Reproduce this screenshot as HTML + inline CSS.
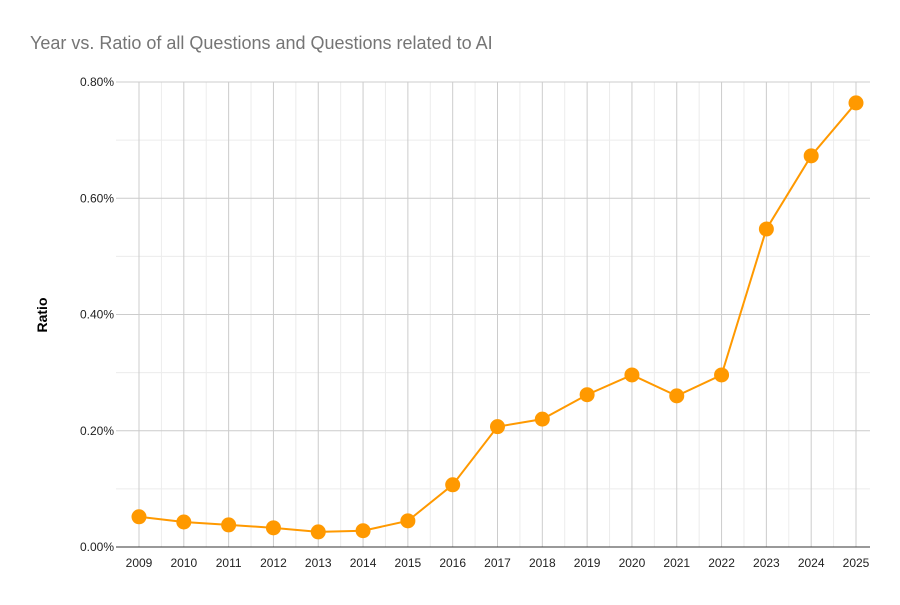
<!DOCTYPE html>
<html><head><meta charset="utf-8"><style>
body{margin:0;background:#fff;font-family:"Liberation Sans",Arial,sans-serif}
</style></head><body>
<svg id="c" width="900" height="600" xmlns="http://www.w3.org/2000/svg">
<rect width="900" height="600" fill="#fff"/>
<text x="30" y="49" font-size="18" fill="#757575">Year vs. Ratio of all Questions and Questions related to AI</text>
<text transform="translate(47,315) rotate(-90)" text-anchor="middle" font-size="14" font-weight="bold" fill="#000">Ratio</text>
<g id="grid"></g><g id="series"></g><g id="labels"></g>
</svg>
<script>
const years=[2009,2010,2011,2012,2013,2014,2015,2016,2017,2018,2019,2020,2021,2022,2023,2024,2025];
const ratios=[0.052,0.043,0.038,0.033,0.026,0.028,0.045,0.107,0.207,0.220,0.262,0.296,0.260,0.296,0.547,0.673,0.764];
const yTicks=[0,0.2,0.4,0.6,0.8];
const yTickLabels=["0.00%","0.20%","0.40%","0.60%","0.80%"];
const NS="http://www.w3.org/2000/svg";
const L=116,R=870,T=82,B=547,x0=139,x1=856;
function xs(i){return x0+(x1-x0)*i/(years.length-1);}
function ys(v){return B-(B-T)*v/0.8;}
function mk(t,a,p){const e=document.createElementNS(NS,t);for(const k in a)e.setAttribute(k,a[k]);p.appendChild(e);return e;}
const g=document.getElementById('grid'),s=document.getElementById('series'),lb=document.getElementById('labels');
const step=(x1-x0)/(years.length-1);
for(let i=0;i<years.length-1;i++){const x=xs(i)+step/2;const e=mk('line',{x1:x,x2:x,y1:T,y2:B,stroke:'#ececec'},g);

}
for(let i=0;i<yTicks.length-1;i++){const y=ys((yTicks[i]+yTicks[i+1])/2);const e=mk('line',{x1:L,x2:R,y1:y,y2:y,stroke:'#ececec'},g);

}
years.forEach((yr,i)=>{const x=xs(i);const e=mk('line',{x1:x,x2:x,y1:T,y2:B,stroke:'#cccccc'},g);


const t=mk('text',{x:x,y:567,'text-anchor':'middle','font-size':12,fill:'#222'},lb);t.textContent=yr;

});
yTicks.forEach((v,i)=>{const y=ys(v);const e=mk('line',{x1:L,x2:R,y1:y,y2:y,stroke:i==0?'#333':'#cccccc'},g);


const t=mk('text',{x:L-2,y:y+4,'text-anchor':'end','font-size':12,fill:'#222'},lb);t.textContent=yTickLabels[i];

});
const pl=mk('polyline',{points:ratios.map((v,i)=>xs(i)+','+ys(v)).join(' '),fill:'none',stroke:'#ff9900','stroke-width':2},s);


ratios.forEach((v,i)=>{const c=mk('circle',{cx:xs(i),cy:ys(v),r:7.5,fill:'#ff9900'},s);

});
</script>
</body></html>
